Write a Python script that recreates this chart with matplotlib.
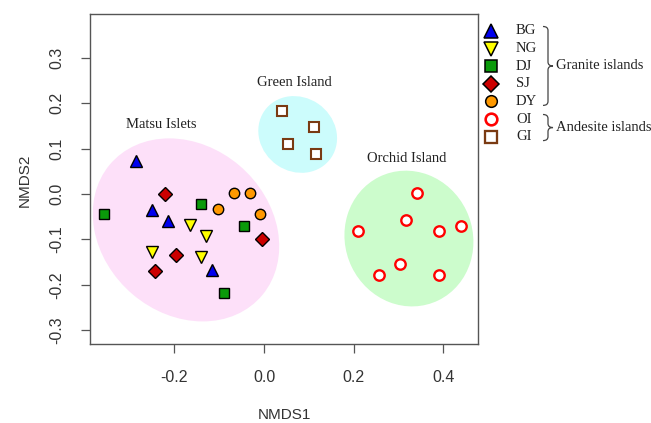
import matplotlib
matplotlib.use("Agg")
import matplotlib.pyplot as plt
from matplotlib.patches import Ellipse, PathPatch
from matplotlib.path import Path
from matplotlib.lines import Line2D

# NMDS scores per site group
bg_x = [-0.285, -0.249, -0.213, -0.116]
bg_y = [0.073, -0.035, -0.059, -0.167]
ng_x = [-0.165, -0.129, -0.249, -0.140]
ng_y = [-0.068, -0.093, -0.128, -0.139]
dj_x = [-0.357, -0.140, -0.045, -0.090]
dj_y = [-0.045, -0.021, -0.070, -0.217]
sj_x = [-0.220, -0.197, -0.244, -0.004]
sj_y = [-0.001, -0.134, -0.170, -0.099]
dy_x = [-0.068, -0.032, -0.103, -0.009]
dy_y = [0.003, 0.003, -0.034, -0.045]
oi_x = [0.209, 0.341, 0.317, 0.389, 0.438, 0.304, 0.257, 0.389]
oi_y = [-0.082, 0.003, -0.057, -0.082, -0.070, -0.154, -0.178, -0.178]
gi_x = [0.041, 0.112, 0.053, 0.115]
gi_y = [0.183, 0.147, 0.111, 0.087]

# region ellipses: name, centre, width, height, angle
region_names = ["Matsu Islets", "Green Island", "Orchid Island"]
region_centres = [(-0.174, -0.079), (0.075, 0.131), (0.323, -0.098)]
region_widths = [0.445, 0.181, 0.302]
region_heights = [0.370, 0.163, 0.284]
region_angles = [-40, -34, -64]
region_label_pos = [(-0.229, 0.152), (0.068, 0.245), (0.317, 0.077)]
region_colors = ["#fde0f9", "#ccfcfc", "#ccfccc"]

x_ticks = [-0.2, 0.0, 0.2, 0.4]
y_ticks = [-0.3, -0.2, -0.1, 0.0, 0.1, 0.2, 0.3]

serif = "Liberation Serif"
sans = "Liberation Sans"

W, H = 651, 423
fig = plt.figure(figsize=(W / 100, H / 100), dpi=100)
ax = fig.add_axes([90 / W, 1 - 344 / H, 388 / W, 330 / H])

for c, w, h, a, col in zip(region_centres, region_widths, region_heights, region_angles, region_colors):
    ax.add_patch(Ellipse(c, w, h, angle=a, facecolor=col, edgecolor="none", zorder=1))
for name, (lx, ly) in zip(region_names, region_label_pos):
    ax.text(lx, ly, name, ha="center", va="center", fontsize=10.5, family=serif, color="#222222")

# marker styles: label, x, y, marker, size, face, edge, edge width
groups = [
    ("BG", bg_x, bg_y, "^", 8.5, "#0000ee", "black", 1.0),
    ("NG", ng_x, ng_y, "v", 8.5, "#ffff00", "black", 1.0),
    ("DJ", dj_x, dj_y, "s", 7.5, "#0a9a0a", "black", 1.0),
    ("SJ", sj_x, sj_y, "D", 7.3, "#cc0000", "black", 1.0),
    ("DY", dy_x, dy_y, "o", 7.5, "#ff9900", "black", 1.0),
    ("OI", oi_x, oi_y, "o", 7.5, "white", "#ff0000", 1.7),
    ("GI", gi_x, gi_y, "s", 7.5, "white", "#7a3a12", 1.5),
]
for lab, xs, ys, m, ms, fc, ec, mew in groups:
    ax.plot(xs, ys, linestyle="none", marker=m, markersize=ms, markerfacecolor=fc,
            markeredgecolor=ec, markeredgewidth=mew, zorder=3)

ax.set_xlim(-0.388, 0.477)
ax.set_ylim(-0.330, 0.396)
ax.set_xticks(x_ticks)
ax.set_xticklabels(["%.1f" % v for v in x_ticks])
ax.set_yticks(y_ticks)
ax.set_yticklabels(["%.1f" % v for v in y_ticks], rotation=90, va="center")
ax.tick_params(direction="out", length=6.5, width=0.9, color="#555555",
               labelsize=11.5, labelcolor="#333333", pad=12)
for lbl in ax.get_xticklabels() + ax.get_yticklabels():
    lbl.set_family(sans)
for s in ax.spines.values():
    s.set_color("#555555")
    s.set_linewidth(1.0)

fig.text(284 / W, 1 - 415 / H, "NMDS1", ha="center", va="center", fontsize=11, family=sans, color="#333333")
fig.text(25 / W, 1 - 180 / H, "NMDS2", ha="center", va="center", rotation=90, fontsize=11, family=sans, color="#333333")

# legend on the right, drawn in pixel space
row0, step = 31.0, 17.6
mark_x, text_x = 491, 516
def px(x, y):
    return (x / W, 1 - y / H)

row_y = [row0 + i * step for i in range(len(groups))]
for (lab, xs, ys, m, ms, fc, ec, mew), ry in zip(groups, row_y):
    fig.add_artist(Line2D([mark_x / W], [1 - ry / H], linestyle="none", marker=m, markersize=ms * 1.12,
                          markerfacecolor=fc, markeredgecolor=ec, markeredgewidth=mew * 1.1,
                          transform=fig.transFigure))
    fig.text(text_x / W, 1 - ry / H, lab, ha="left", va="center", fontsize=10.5, family=serif, color="#222222")

def brace(ytop, ybot, x0=543, x1=553):
    xm = (x0 + x1) / 2
    ym = (ytop + ybot) / 2
    r = 4
    verts = [px(x0, ytop), px(xm, ytop), px(xm, ytop + r),
             px(xm, ym - r), px(xm, ym), px(x1, ym),
             px(xm, ym), px(xm, ym + r),
             px(xm, ybot - r), px(xm, ybot), px(x0, ybot)]
    codes = [Path.MOVETO, Path.CURVE3, Path.CURVE3,
             Path.LINETO, Path.CURVE3, Path.CURVE3,
             Path.CURVE3, Path.CURVE3,
             Path.LINETO, Path.CURVE3, Path.CURVE3]
    fig.add_artist(PathPatch(Path(verts, codes), facecolor="none", edgecolor="#444444",
                             linewidth=0.9, transform=fig.transFigure))
    return ym

brace_groups = [("Granite islands", 0, 4), ("Andesite islands", 5, 6)]
for name, i0, i1 in brace_groups:
    ym = brace(row_y[i0] - 4.5, row_y[i1] + 4)
    fig.text(556 / W, 1 - ym / H, name, ha="left", va="center", fontsize=10.5, family=serif, color="#222222")

fig.savefig("out.png", dpi=100)
